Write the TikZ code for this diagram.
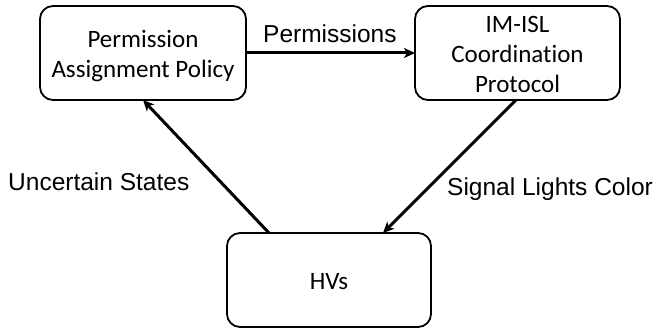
\documentclass[tikz,border=0pt]{standalone}
\usepackage{fontspec}
\setmainfont[Ligatures={NoCommon}]{Carlito}
\newfontfamily\labelfont{Liberation Sans}
\usetikzlibrary{arrows.meta,calc}
\newcommand\boxtext[2]{\raisebox{-#1}[\height][\depth]{\begin{tabular}{@{}c@{}}#2\end{tabular}}}
\begin{document}
\begin{tikzpicture}[x=1pt,y=-1pt,
  box/.style={draw=black,line width=1.8pt,rounded corners=13pt,align=center,
    font=\fontsize{25}{30}\selectfont,inner sep=0pt,outer sep=0pt},
  flow/.style={draw=black,line width=3pt,-{Stealth[length=11pt,width=10pt,inset=3pt]}},
  lbl/.style={font=\labelfont\fontsize{24.5}{29}\selectfont,inner sep=0pt,anchor=base west}]
\useasboundingbox (0,0) rectangle (655,328);
\node[box,minimum width=206pt,minimum height=94pt] (pap) at (143,53) {\boxtext{4pt}{Permission\\Assignment Policy}};
\node[box,minimum width=205pt,minimum height=94pt] (isl) at (517.5,53) {\boxtext{3.5pt}{IM-ISL\\Coordination\\Protocol}};
\node[box,minimum width=204pt,minimum height=94pt] (hv) at (329,280) {\boxtext{4pt}{HVs}};
\draw[flow] (pap) -- (isl);
\draw[flow] ([xshift=42pt]hv.north west) -- (pap.south);
\draw[flow] ([xshift=-1.5pt]isl.south) -- ([xshift=156pt]hv.north west);
\node[lbl] (lperm) at (263,43) {Permissions};
\node[lbl] (lunc) at (8,191) {Uncertain States};
\node[lbl] (lsig) at (447,196) {Signal Lights Color};
\end{tikzpicture}
\end{document}
